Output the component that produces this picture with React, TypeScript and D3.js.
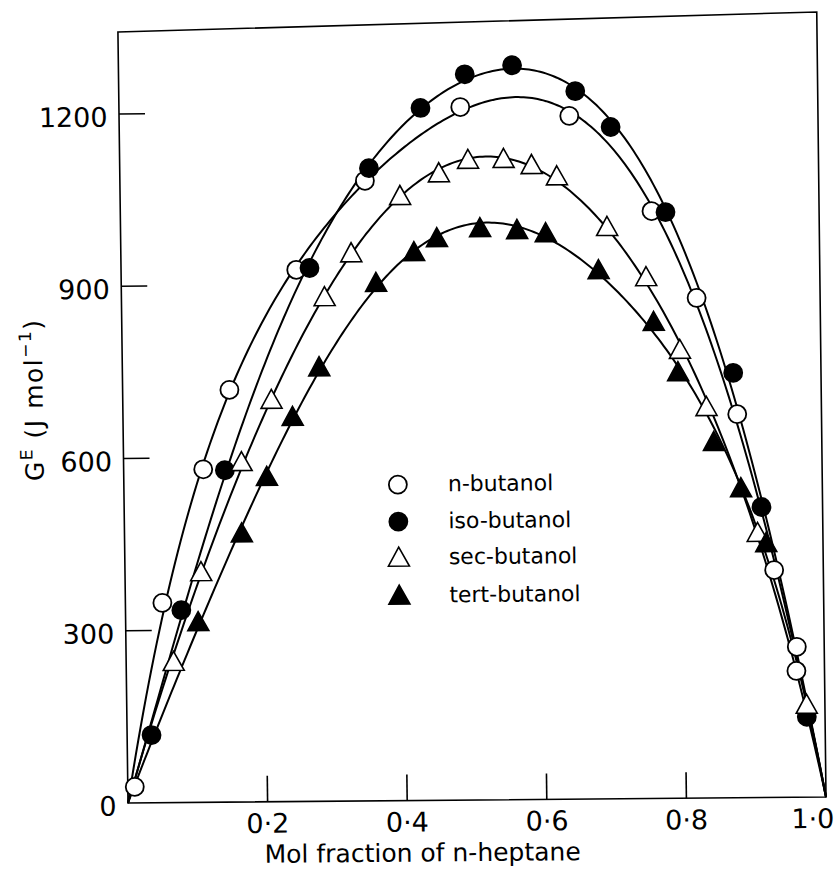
import React from "react";
import * as d3 from "d3";

// ---- data ----
const xTicks = [0.2, 0.4, 0.6, 0.8];
const xTickLabels = ["0·2", "0·4", "0·6", "0·8", "1·0"];
const xTickLabelValues = [0.2, 0.4, 0.6, 0.8, 1.0];
const yTicks = [300, 600, 900, 1200];
const yTickLabels = ["0", "300", "600", "900", "1200"];
const yTickLabelValues = [0, 300, 600, 900, 1200];

const seriesNames = ["n-butanol", "iso-butanol", "sec-butanol", "tert-butanol"];

const nButanolX = [0.010, 0.053, 0.114, 0.153, 0.251, 0.351, 0.489, 0.645, 0.761, 0.824, 0.880, 0.930, 0.961, 0.960];
const nButanolG = [28, 348, 580, 718, 926, 1080, 1207, 1190, 1023, 871, 668, 396, 262, 220];

const isoButanolX = [0.035, 0.080, 0.145, 0.270, 0.357, 0.432, 0.496, 0.564, 0.654, 0.704, 0.781, 0.875, 0.913, 0.974];
const isoButanolG = [118, 335, 578, 929, 1102, 1206, 1264, 1279, 1233, 1170, 1021, 740, 506, 140];

const secButanolX = [0.068, 0.109, 0.169, 0.213, 0.291, 0.330, 0.401, 0.457, 0.499, 0.550, 0.590, 0.626, 0.697, 0.752, 0.799, 0.836, 0.907, 0.974];
const secButanolG = [245, 401, 592, 700, 878, 954, 1053, 1092, 1115, 1116, 1105, 1085, 996, 908, 781, 681, 461, 161];

const tertButanolX = [0.104, 0.168, 0.205, 0.243, 0.282, 0.365, 0.420, 0.453, 0.515, 0.568, 0.609, 0.684, 0.762, 0.796, 0.846, 0.884, 0.919];
const tertButanolG = [314, 468, 566, 670, 756, 902, 955, 979, 996, 992, 986, 921, 830, 742, 620, 539, 443];

const seriesX = [nButanolX, isoButanolX, secButanolX, tertButanolX];
const seriesG = [nButanolG, isoButanolG, secButanolG, tertButanolG];
const seriesShape = ["circle", "circle", "triangle", "triangle"];
const seriesFilled = [false, true, false, true];

// ---- Redlich–Kister least-squares fit of each series (smooth curve like the original) ----
function fitRK(xs: number[], gs: number[], n: number): number[] {
  const A = Array.from({ length: n }, () => new Array(n).fill(0));
  const b = new Array(n).fill(0);
  xs.forEach((x, i) => {
    const phi = d3.range(n).map((k) => x * (1 - x) * Math.pow(2 * x - 1, k));
    for (let j = 0; j < n; j++) {
      for (let k = 0; k < n; k++) A[j][k] += phi[j] * phi[k];
      b[j] += phi[j] * gs[i];
    }
  });
  for (let c = 0; c < n; c++) {
    let p = c;
    for (let r = c + 1; r < n; r++) if (Math.abs(A[r][c]) > Math.abs(A[p][c])) p = r;
    [A[c], A[p]] = [A[p], A[c]];
    [b[c], b[p]] = [b[p], b[c]];
    for (let r = c + 1; r < n; r++) {
      const f = A[r][c] / A[c][c];
      for (let k = c; k < n; k++) A[r][k] -= f * A[c][k];
      b[r] -= f * b[c];
    }
  }
  const coef = new Array(n).fill(0);
  for (let r = n - 1; r >= 0; r--) {
    let s = b[r];
    for (let k = r + 1; k < n; k++) s -= A[r][k] * coef[k];
    coef[r] = s / A[r][r];
  }
  return coef;
}
function rk(coef: number[], x: number) {
  return x * (1 - x) * coef.reduce((s, a, k) => s + a * Math.pow(2 * x - 1, k), 0);
}

const FONT = "'DejaVu Sans', sans-serif";

function Marker({ shape, filled, cx, cy }: { shape: string; filled: boolean; cx: number; cy: number }) {
  const fill = filled ? "#000" : "#fff";
  if (shape === "circle") {
    return <circle cx={cx} cy={cy} r={9} fill={fill} stroke="#000" strokeWidth={1.8} />;
  }
  return (
    <path
      d={`M${cx},${cy - 10.5}L${cx + 10.5},${cy + 8.5}L${cx - 10.5},${cy + 8.5}Z`}
      fill={fill}
      stroke="#000"
      strokeWidth={1.6}
      strokeLinejoin="miter"
    />
  );
}

export default function App() {
  const x = d3.scaleLinear().domain([0, 1]).range([128, 826]);
  const y = d3.scaleLinear().domain([0, 1200]).range([803, 114]);
  const samples = d3.range(0, 1.00001, 0.004);
  const line = d3
    .line<[number, number]>()
    .x((d) => x(d[0]))
    .y((d) => y(d[1]))
    .curve(d3.curveLinear);

  const curves = seriesX.map((xs, i) => {
    const coef = fitRK(xs, seriesG[i], 5);
    return line(samples.map((s) => [s, rk(coef, s)] as [number, number]));
  });

  const legendY = [487, 524, 560, 598];

  return (
    <svg
      width={840}
      height={871}
      style={{ position: "absolute", left: 0, top: 0, display: "block", background: "#fff" }}
    >
      <rect x={0} y={0} width={840} height={871} fill="#fff" />
      <g transform="matrix(1,-0.0086,0.01306,1,-10.488,1.1008)" fontFamily={FONT} fill="#000">
        {/* frame */}
        <path d={`M${x(0)},32L827,18L${x(1)},${y(0)}L${x(0)},${y(0)}Z`} fill="none" stroke="#000" strokeWidth={1.6} />
        {/* ticks */}
        {xTicks.map((t) => (
          <line key={"xt" + t} x1={x(t)} x2={x(t)} y1={y(0)} y2={y(0) - 26} stroke="#000" strokeWidth={1.6} />
        ))}
        {yTicks.map((t) => (
          <line key={"yt" + t} x1={x(0)} x2={x(0) + 26} y1={y(t)} y2={y(t)} stroke="#000" strokeWidth={1.6} />
        ))}
        {xTickLabelValues.map((v, i) =>
          v === 1 ? (
            <text key={"xl" + i} x={x(v) + 8} y={y(0) + 31} fontSize={27} textAnchor="end">
              {xTickLabels[i]}
            </text>
          ) : (
            <text key={"xl" + i} x={x(v)} y={y(0) + 31} fontSize={27} textAnchor="middle">
              {xTickLabels[i]}
            </text>
          )
        )}
        {yTickLabelValues.map((v, i) => (
          <text key={"yl" + i} x={116.5} y={y(v) + 12.5} fontSize={27} textAnchor="end">
            {yTickLabels[i]}
          </text>
        ))}
        {/* axis titles */}
        <text x={422} y={864} fontSize={25} textAnchor="middle">
          Mol fraction of n-heptane
        </text>
        <text transform="translate(48,399) rotate(-90)" fontSize={25} textAnchor="middle" letterSpacing={1.5}>
          <tspan>G</tspan>
          <tspan dy={-11} fontSize={17}>E</tspan>
          <tspan dy={11}> (J mol</tspan>
          <tspan dy={-11} fontSize={17}>−1</tspan>
          <tspan dy={11}>)</tspan>
        </text>
        {/* curves */}
        {curves.map((d, i) => (
          <path key={"c" + i} d={d || ""} fill="none" stroke="#000" strokeWidth={2} />
        ))}
        {/* points */}
        {seriesX.map((xs, i) =>
          xs.map((xv, j) => (
            <Marker
              key={`m${i}-${j}`}
              shape={seriesShape[i]}
              filled={seriesFilled[i]}
              cx={x(xv)}
              cy={y(seriesG[i][j])}
            />
          ))
        )}
        {/* legend */}
        {seriesNames.map((name, i) => (
          <g key={"lg" + i}>
            <Marker shape={seriesShape[i]} filled={seriesFilled[i]} cx={402} cy={legendY[i]} />
            <text x={452} y={legendY[i] + 7} fontSize={22}>
              {name}
            </text>
          </g>
        ))}
      </g>
    </svg>
  );
}
